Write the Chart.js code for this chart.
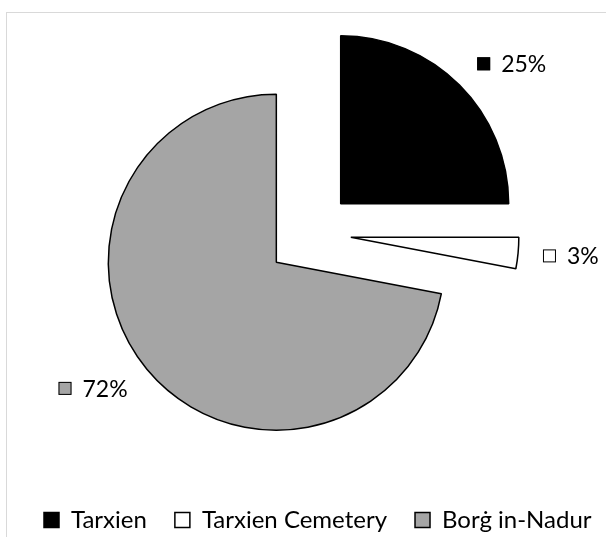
<!DOCTYPE html>
<html>
<head>
<meta charset="utf-8">
<script src="https://cdn.jsdelivr.net/npm/chart.js@4.4.1/dist/chart.umd.min.js"></script>
<style>
    html, body { margin: 0; padding: 0; background: #fff; }
    #wrap { width: 606px; height: 537px; }
</style>
</head>
<body>
<div id="wrap"><canvas id="chart-ctx"></canvas></div>
<script>
const cultures = ["Tarxien", "Tarxien Cemetery", "Borġ in-Nadur"];
const shares = [25, 3, 72];

const FONT = "Lato";

// light grey frame round the plot, as in the original figure
const framePlugin = {
    id: "frame",
    beforeDraw(chart) {
        const ctx = chart.ctx;
        ctx.save();
        ctx.strokeStyle = "#d9d9d9";
        ctx.lineWidth = 1;
        ctx.strokeRect(6.5, 12.5, chart.width + 10, chart.height + 10);
        ctx.restore();
    }
};

// Chart.js widens exploded slices by offset * (1 - sin(circumference));
// a quarter turn makes that term zero, so every slice keeps the same radius
const evenRadiusPlugin = {
    id: "evenRadius",
    beforeDatasetsDraw(chart) {
        chart.getDatasetMeta(0).data.forEach((arc) => {
            arc.circumference = Math.PI / 2;
        });
    }
};

// "■ 25%" style labels outside each slice
const sliceLabelPlugin = {
    id: "sliceLabels",
    afterDatasetsDraw(chart) {
        const ctx = chart.ctx;
        const arcs = chart.getDatasetMeta(0).data;
        ctx.save();
        ctx.font = "23px " + FONT;
        ctx.textBaseline = "middle";
        arcs.forEach((arc, i) => {
            const mid = (arc.startAngle + arc.endAngle) / 2;
            const dist = arc.options.offset / 4 + arc.outerRadius + 25;
            const x = arc.x + Math.cos(mid) * dist;
            const y = arc.y + Math.sin(mid) * (dist + 5);
            const text = shares[i] + "%";
            const box = 13;
            const gap = 11;
            const width = box + gap + ctx.measureText(text).width;
            const left = Math.cos(mid) >= 0 ? x : x - width;
            ctx.fillStyle = arc.options.backgroundColor;
            ctx.fillRect(left, y - box / 2, box, box);
            ctx.strokeStyle = "#000";
            ctx.lineWidth = 1;
            ctx.strokeRect(left + 0.5, y - box / 2 + 0.5, box - 1, box - 1);
            ctx.fillStyle = "#000";
            ctx.fillText(text, left + box + gap, y + 1);
        });
        ctx.restore();
    }
};

const ctx = document.getElementById("chart-ctx");

new Chart(ctx, {
    type: "pie",
    data: {
        labels: cultures,
        datasets: [{
            data: shares,
            backgroundColor: ["#000000", "#ffffff", "#a5a5a5"],
            borderColor: "#000000",
            borderWidth: 1.5,
            offset: [168, 160, 180],
            radius: 168,
        }]
    },
    options: {
        responsive: true,
        maintainAspectRatio: false,
        animation: false,
        events: [],
        layout: {
            padding: { top: 0, left: 16, right: -20, bottom: -5 }
        },
        plugins: {
            tooltip: { enabled: false },
            legend: {
                display: true,
                position: "bottom",
                align: "start",
                // empty title only reserves space between pie and legend
                title: {
                    display: true,
                    text: "",
                    font: { size: 10 },
                    padding: 0.5,
                },
                labels: {
                    boxWidth: 15,
                    boxHeight: 15,
                    padding: 28,
                    color: "#000",
                    font: { family: FONT, size: 24 },
                }
            }
        }
    },
    plugins: [framePlugin, evenRadiusPlugin, sliceLabelPlugin]
});
</script>
</body>
</html>
